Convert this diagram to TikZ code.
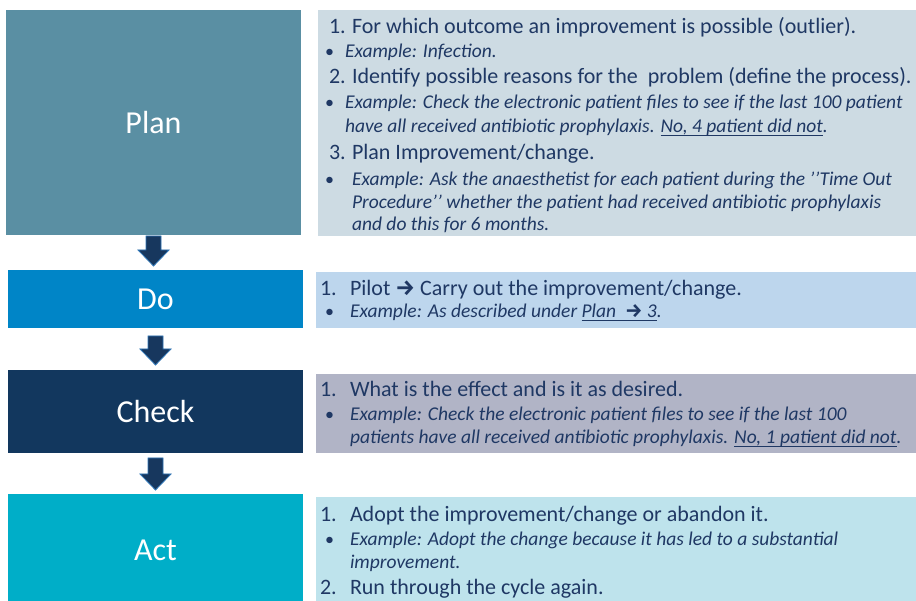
\documentclass[tikz,border=0pt]{standalone}
\usepackage{fontspec}
\setmainfont{Carlito}
\newfontfamily\arrfont{Fira Sans}
\usetikzlibrary{calc}
\definecolor{plancol}{HTML}{5A8FA3}
\definecolor{planbg}{HTML}{CDDBE3}
\definecolor{docol}{HTML}{0085C7}
\definecolor{dobg}{HTML}{BDD6ED}
\definecolor{checkcol}{HTML}{12375E}
\definecolor{checkbg}{HTML}{B1B4C6}
\definecolor{actcol}{HTML}{00AEC8}
\definecolor{actbg}{HTML}{BEE3EC}
\definecolor{txt}{HTML}{1F3864}
\definecolor{arrfill}{HTML}{17375E}
\definecolor{arrline}{HTML}{2E75B6}
\newcommand\rarr{{\arrfont\bfseries\upshape →}}
\newsavebox\myulbox
\newcommand\ulx[1]{\sbox\myulbox{#1}\rlap{\rule[-2.8pt]{\wd\myulbox}{1.1pt}}\usebox\myulbox}
\newcommand\pdcaarrow[4]{%
  \draw[blockarr] let \p1=(#1.south), \p2=(#2.north) in
  (\x1-7.5pt,\y1-#3) -- (\x1+7.5pt,\y1-#3) -- (\x1+7.5pt,\y2+#4+16pt)
  -- (\x1+15.5pt,\y2+#4+16pt) -- (\x1,\y2+#4) -- (\x1-15.5pt,\y2+#4+16pt)
  -- (\x1-7.5pt,\y2+#4+16pt) -- cycle;}
\tikzset{
  stagebox/.style={anchor=north west, inner sep=0pt, outer sep=0pt, text=white,
    font=\fontsize{32}{38}\selectfont},
  panelbox/.style={anchor=north west, inner sep=0pt, outer sep=0pt},
  mainl/.style={anchor=base west, inner sep=0pt, outer sep=0pt, text=txt,
    font=\fontsize{22}{26}\selectfont},
  exl/.style={anchor=base west, inner sep=0pt, outer sep=0pt, text=txt,
    font=\fontsize{19.5}{23}\selectfont\itshape},
  bul/.style={anchor=base west, inner sep=0pt, outer sep=0pt, text=txt,
    font=\fontsize{18}{22}\selectfont},
  blockarr/.style={fill=arrfill, draw=arrline, line width=0.8pt, line join=miter}
}
\begin{document}
\begin{tikzpicture}[x=1pt,y=-1pt]
\useasboundingbox (0,0) rectangle (916,601);
\fill[white] (0,0) rectangle (916,601);

% stage boxes
\node[stagebox, fill=plancol, minimum width=295pt, minimum height=225pt] (plan) at (6,10) {Plan};
\node[stagebox, fill=docol, minimum width=295pt, minimum height=58pt] (do) at (8,270) {Do};
\node[stagebox, fill=checkcol, minimum width=295pt, minimum height=83pt] (check) at (8,370) {Check};
\node[stagebox, fill=actcol, minimum width=295pt, minimum height=107pt] (act) at (8,494) {\raisebox{-3pt}[\height][0pt]{Act}};

% panels
\node[panelbox, fill=planbg, minimum width=598pt, minimum height=226pt] (planbg) at (318,10) {};
\node[panelbox, fill=dobg, minimum width=600pt, minimum height=56pt] (dobg) at (316,272) {};
\node[panelbox, fill=checkbg, minimum width=600pt, minimum height=79pt] (checkbg) at (316,374) {};
\node[panelbox, fill=actbg, minimum width=600pt, minimum height=104pt] (actbg) at (316,497) {};

% arrows
\pdcaarrow{plan}{do}{1pt}{4pt}
\pdcaarrow{do}{check}{8pt}{5pt}
\pdcaarrow{check}{act}{5pt}{4pt}

% Plan text
\node[mainl] (p1n) at (329,34) {1.};
\node[mainl] (p1) at (352,34) {For which outcome an improvement is possible (outlier).};
\node[bul] (p1b) at (325,58) {•};
\node[exl] (p1e) at (345,58) {Example: Infection.};
\node[mainl] (p2n) at (329,84) {2.};
\node[mainl] (p2) at (352,84) {Identify possible reasons for the\ \ problem (define the process).};
\node[bul] (p2b) at (325,109) {•};
\node[exl] (p2e) at (345,109) {Example: Check the electronic patient files to see if the last 100 patient};
\node[exl] (p2f) at (345,133) {have all received antibiotic prophylaxis. \ulx{No, 4 patient did not}.};
\node[mainl] (p3n) at (329,160) {3.};
\node[mainl] (p3) at (352,160) {Plan Improvement/change.};
\node[bul] (p3b) at (325,186) {•};
\node[exl] (p3e) at (352,186) {Example: Ask the anaesthetist for each patient during the ’’Time Out};
\node[exl] (p3f) at (352,209) {Procedure’’ whether the patient had received antibiotic prophylaxis};
\node[exl] (p3g) at (352,231) {and do this for 6 months.};

% Do text
\node[mainl] (d1n) at (320,296) {1.};
\node[mainl] (d1) at (350,296) {Pilot \rarr\ Carry out the improvement/change.};
\node[bul] (d1b) at (325,318) {•};
\node[exl] (d1e) at (350,318) {Example: As described under \ulx{Plan \ \rarr\ 3}.};

% Check text
\node[mainl] (c1n) at (320,397) {1.};
\node[mainl] (c1) at (350,397) {What is the effect and is it as desired.};
\node[bul] (c1b) at (325,421) {•};
\node[exl] (c1e) at (350,421) {Example: Check the electronic patient files to see if the last 100};
\node[exl] (c1f) at (350,444) {patients have all received antibiotic prophylaxis. \ulx{No, 1 patient did not}.};

% Act text
\node[mainl] (a1n) at (320,521) {1.};
\node[mainl] (a1) at (350,521) {Adopt the improvement/change or abandon it.};
\node[bul] (a1b) at (325,545) {•};
\node[exl] (a1e) at (350,545) {Example: Adopt the change because it has led to a substantial};
\node[exl] (a1f) at (350,568) {improvement.};
\node[mainl] (a2n) at (320,594) {2.};
\node[mainl] (a2) at (350,594) {Run through the cycle again.};
\end{tikzpicture}
\end{document}
